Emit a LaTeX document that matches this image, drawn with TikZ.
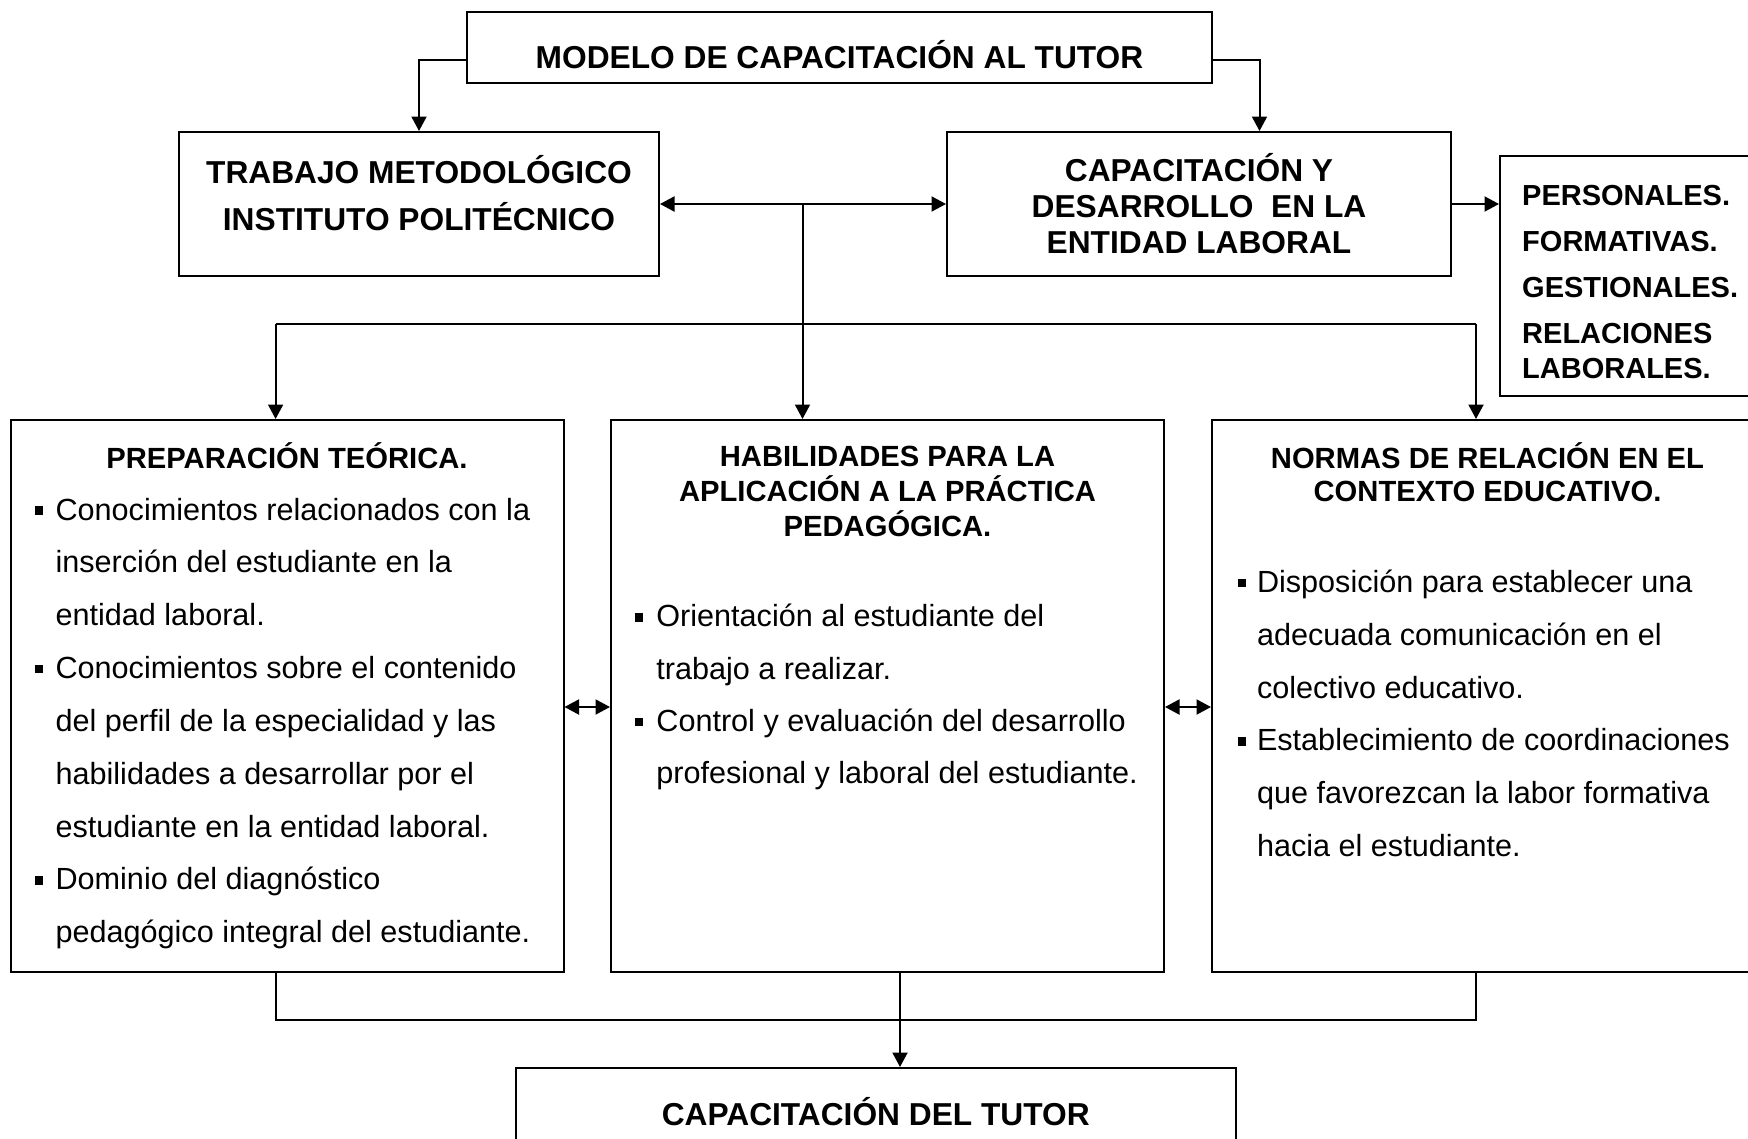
\documentclass[tikz,border=0pt]{standalone}
\usepackage{fontspec}
\setmainfont{Liberation Sans}
\usetikzlibrary{arrows.meta}
\begin{document}
\begin{tikzpicture}[x=1pt,y=-1pt,
  box/.style={draw, line width=2pt, inner sep=0pt},
  arr/.style={line width=2pt, -{Triangle[length=14.5pt,width=15pt]}},
  dbl/.style={line width=2pt, {Triangle[length=14.5pt,width=15pt]}-{Triangle[length=14.5pt,width=15pt]}},
  ln/.style={line width=2pt},
  big/.style={font=\fontsize{31.7}{38}\selectfont\bfseries, anchor=base, inner sep=0pt},
  ttl/.style={font=\fontsize{29.2}{35}\selectfont\bfseries, anchor=base, inner sep=0pt},
  lst/.style={font=\fontsize{29}{35}\selectfont\bfseries, anchor=base west, inner sep=0pt},
  body/.style={font=\fontsize{30.6}{36}\selectfont, anchor=base west, inner sep=0pt},
  bul/.style={fill, inner sep=0pt, minimum width=7.5pt, minimum height=8.4pt, anchor=south west}
]
\useasboundingbox (0,0) rectangle (1748,1138);
\clip (0,0) rectangle (1748,1138);
\fill[white] (0,0) rectangle (1748,1138);

% boxes
\node[box, minimum width=745pt, minimum height=71pt] (top) at (839.5,47.5) {};
\node[box, minimum width=480pt, minimum height=144pt] (trab) at (419,204) {};
\node[box, minimum width=504pt, minimum height=144pt] (cap) at (1199,204) {};
\node[box, minimum width=300pt, minimum height=240pt] (pers) at (1650,276) {};
\node[box, minimum width=552.5pt, minimum height=552pt] (prep) at (287.25,696) {};
\node[box, minimum width=553pt, minimum height=552pt] (hab) at (887.5,696) {};
\node[box, minimum width=551pt, minimum height=552pt] (norm) at (1487.5,696) {};
\node[box, minimum width=720.5pt, minimum height=112pt] (bot) at (875.75,1124) {};

% top texts
\node[big] (topt) at (839.5,68.3) {MODELO DE CAPACITACIÓN AL TUTOR};
\node[big] (trab1) at (419,183) {TRABAJO METODOLÓGICO};
\node[big] (trab2) at (419,230) {INSTITUTO POLITÉCNICO};
\node[big] (cap1) at (1199,181) {CAPACITACIÓN Y};
\node[big] (cap2) at (1199,217) {DESARROLLO~~EN LA};
\node[big] (cap3) at (1199,253) {ENTIDAD LABORAL};
\node[lst] (pe1) at (1522,205) {PERSONALES.};
\node[lst] (pe2) at (1522,251) {FORMATIVAS.};
\node[lst] (pe3) at (1522,297) {GESTIONALES.};
\node[lst] (pe4) at (1522,343) {RELACIONES};
\node[lst] (pe5) at (1522,378) {LABORALES.};

% middle titles
\node[ttl] (pt) at (287,468) {PREPARACIÓN TEÓRICA.};
\node[ttl] (ht1) at (887.5,466.7) {HABILIDADES PARA LA};
\node[ttl] (ht2) at (887.5,501.7) {APLICACIÓN A LA PRÁCTICA};
\node[ttl] (ht3) at (887.5,536) {PEDAGÓGICA.};
\node[ttl] (nt1) at (1487.5,468) {NORMAS DE RELACIÓN EN EL};
\node[ttl] (nt2) at (1487.5,501.7) {CONTEXTO EDUCATIVO.};

% body texts
\foreach \t [count=\i] in {Conocimientos relacionados con la, inserción del estudiante en la, entidad laboral., Conocimientos sobre el contenido, del perfil de la especialidad y las, habilidades a desarrollar por el, estudiante en la entidad laboral., Dominio del diagnóstico, pedagógico integral del estudiante.}
  \node[body] (p\i) at (55.4,{520+(\i-1)*52.85}) {\t};
\foreach \i in {1,4,8}
  \node[bul] (pb\i) at (34.8,{520+(\i-1)*52.85-5}) {};

\foreach \t [count=\i] in {Orientación al estudiante del, trabajo a realizar., Control y evaluación del desarrollo, profesional y laboral del estudiante.}
  \node[body] (h\i) at (656.2,{626.7+(\i-1)*52.3}) {\t};
\foreach \i in {1,3}
  \node[bul] (hb\i) at (635,{626.7+(\i-1)*52.3-5}) {};

\foreach \t [count=\i] in {Disposición para establecer una, adecuada comunicación en el, colectivo educativo., Establecimiento de coordinaciones, que favorezcan la labor formativa, hacia el estudiante.}
  \node[body] (n\i) at (1256.8,{592.4+(\i-1)*52.82}) {\t};
\foreach \i in {1,4}
  \node[bul] (nb\i) at (1238,{592.4+(\i-1)*52.82-5}) {};

\node[big] (bott) at (875.75,1125) {CAPACITACIÓN DEL TUTOR};

% connectors
\draw[arr] (top.west) ++(0,12.5) -| (trab.north);
\draw[arr] (top.east) ++(0,12.5) -| ([xshift=60.5pt]cap.north);
\draw[dbl] (trab.east) -- (cap.west);
\draw[arr] (cap.east) -- (cap.east -| pers.west);
\coordinate (j1) at (802.5,204);
\draw[arr] (j1) -- (j1 |- hab.north);
\coordinate (hl) at (275.6,324);
\coordinate (hr) at (1476,324);
\draw[ln] (hl) -- (hr);
\draw[arr] (hl) -- (hl |- prep.north);
\draw[arr] (hr) -- (hr |- norm.north);
\draw[dbl] ([yshift=-11pt]prep.east) -- ([yshift=-11pt]hab.west);
\draw[dbl] ([yshift=-11pt]hab.east) -- ([yshift=-11pt]norm.west);
\coordinate (bl) at (275.6,1020);
\coordinate (br) at (1476,1020);
\coordinate (bm) at (900,1020);
\draw[ln] (bl |- prep.south) -- (bl) -- (br) -- (br |- norm.south);
\draw[arr] (bm |- hab.south) -- (bm |- bot.north);
\end{tikzpicture}
\end{document}
